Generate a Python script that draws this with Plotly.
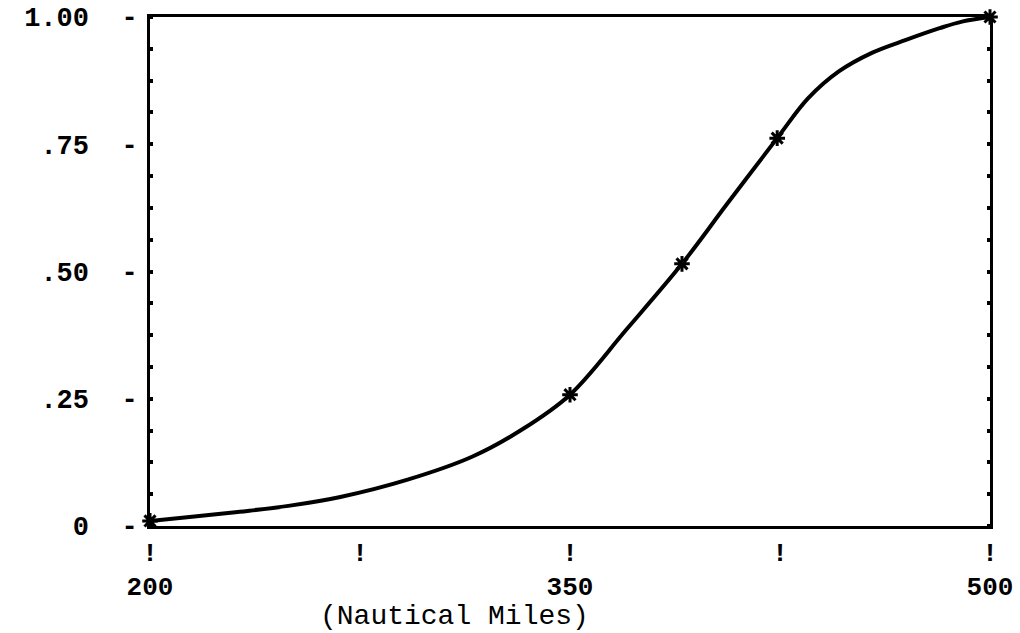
import plotly.graph_objects as go

# Curve: distance in nautical miles vs cumulative probability
miles = [200, 215, 232, 250, 268, 292, 315, 333, 350, 370, 390, 406, 424, 435, 446, 458, 470, 482, 490, 500]
prob = [0.010, 0.018, 0.028, 0.040, 0.057, 0.091, 0.136, 0.190, 0.258, 0.385, 0.515,
        0.632, 0.762, 0.840, 0.893, 0.930, 0.955, 0.978, 0.991, 1.0]

# Marked points (asterisks)
mark_miles = [200, 350, 390, 424, 500]
mark_prob = [0.010, 0.258, 0.515, 0.762, 1.0]

# Axis ticks
x_tickvals = [200, 275, 350, 425, 500]
x_ticklabels = ["200", "", "350", "", "500"]
y_tickvals = [0, 0.25, 0.5, 0.75, 1.0]
y_ticklabels = ["0", ".25", ".50", ".75", "1.00"]
x_title = "(Nautical Miles)"

NB = "\u00a0"
fig = go.Figure()
fig.add_trace(go.Scatter(x=miles, y=prob, mode="lines",
                         line=dict(color="black", width=4, shape="spline", smoothing=1.0),
                         showlegend=False, hoverinfo="skip"))
fig.add_trace(go.Scatter(x=mark_miles, y=mark_prob, mode="markers",
                         marker=dict(symbol="asterisk-open", size=13, color="black",
                                     line=dict(color="black", width=3)),
                         showlegend=False, cliponaxis=False))

fig.update_layout(
    width=1020, height=633,
    margin=dict(l=150, r=30, t=17, b=107),
    plot_bgcolor="white", paper_bgcolor="white",
    font=dict(family="Liberation Mono", color="black", size=28),
)
fig.update_xaxes(
    range=[200, 500], showgrid=False, zeroline=False, automargin=False,
    showline=True, linecolor="black", linewidth=3, mirror=True,
    tickvals=x_tickvals,
    ticktext=[("!<br>" + t) if t else "!" for t in x_ticklabels],
    ticks="", ticklabelstandoff=1,
    tickfont=dict(family="Liberation Mono", size=26, weight="bold"),
)
fig.update_yaxes(
    range=[0, 1], showgrid=False, zeroline=False, automargin=False,
    showline=True, linecolor="black", linewidth=3, mirror="allticks",
    tickvals=y_tickvals,
    ticktext=[t + NB + NB + "-" for t in y_ticklabels],
    ticks="", ticklabelstandoff=4,
    tickfont=dict(family="Liberation Mono", size=27, weight="bold"),
    minor=dict(dtick=0.0625, ticks="inside", ticklen=3, tickwidth=4, tickcolor="black"),
)
fig.add_annotation(text=x_title, xref="paper", yref="paper", x=0.363, y=-0.178,
                   yanchor="middle", showarrow=False,
                   font=dict(family="Liberation Mono", size=28, color="black"))

fig.write_html("out.html")
